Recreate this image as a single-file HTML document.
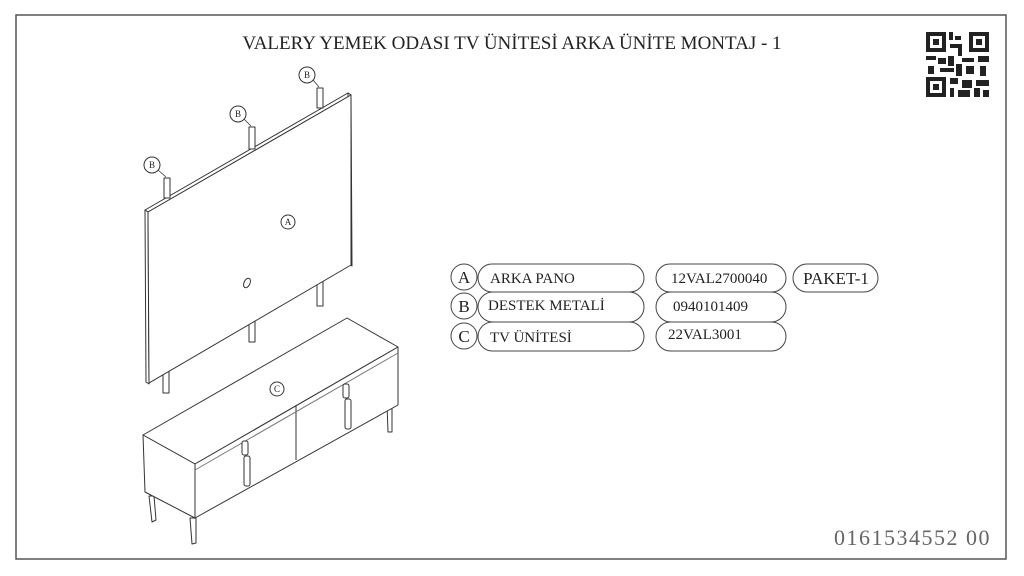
<!DOCTYPE html>
<html><head><meta charset="utf-8"><style>
html,body{margin:0;padding:0;background:#fff;}
svg{display:block;}
text{font-family:"Liberation Serif",serif;fill:#222;}
</style></head><body>
<svg width="1024" height="576" viewBox="0 0 1024 576" xmlns="http://www.w3.org/2000/svg">
<rect x="16" y="15" width="990" height="544" fill="#fff" stroke="#555" stroke-width="1.5"/>
<text x="512" y="49" font-size="19" text-anchor="middle">VALERY YEMEK ODASI TV ÜNİTESİ ARKA ÜNİTE MONTAJ - 1</text>
<!-- QR -->
<g fill="#222">
<rect x="926" y="32" width="63" height="65" fill="#fff"/>
<rect x="926" y="32" width="20" height="20"/><rect x="930" y="36" width="12" height="12" fill="#fff"/><rect x="933" y="39" width="6" height="6"/>
<rect x="969" y="32" width="20" height="20"/><rect x="973" y="36" width="12" height="12" fill="#fff"/><rect x="976" y="39" width="6" height="6"/>
<rect x="926" y="77" width="20" height="20"/><rect x="930" y="81" width="12" height="12" fill="#fff"/><rect x="933" y="84" width="6" height="6"/>
<rect x="949" y="32" width="4" height="8"/><rect x="955" y="36" width="6" height="4"/><rect x="950" y="44" width="12" height="4"/><rect x="958" y="48" width="4" height="8"/>
<rect x="926" y="56" width="10" height="4"/><rect x="938" y="58" width="8" height="6"/><rect x="948" y="56" width="6" height="10"/><rect x="962" y="58" width="12" height="4"/><rect x="978" y="56" width="11" height="6"/>
<rect x="928" y="66" width="6" height="8"/><rect x="940" y="68" width="14" height="4"/><rect x="956" y="64" width="6" height="12"/><rect x="966" y="66" width="8" height="8"/><rect x="980" y="66" width="6" height="10"/>
<rect x="950" y="78" width="8" height="6"/><rect x="962" y="80" width="10" height="8"/><rect x="976" y="80" width="13" height="6"/><rect x="950" y="88" width="4" height="9"/><rect x="958" y="90" width="12" height="7"/><rect x="974" y="88" width="6" height="9"/><rect x="983" y="90" width="6" height="7"/>
</g>
<g fill="#fff" stroke="#333" stroke-width="1" stroke-linejoin="round">
<rect x="317" y="280" width="6" height="26"/>
<rect x="249" y="317" width="6" height="25"/>
<rect x="163" y="368" width="6" height="25"/>
<polygon points="145,210 348,93 351,95 148,212"/>
<polygon points="348,93 351,95 352,266 349,264"/>
<polygon points="145,210 148,212 149,384 146,382"/>
<polygon points="148,212 351,95 351,265 149,383"/>
<rect x="164" y="178" width="6" height="20"/>
<rect x="249" y="127" width="6" height="22"/>
<rect x="317" y="88" width="6" height="20"/>
<ellipse cx="247" cy="283" rx="3" ry="5" transform="rotate(25 247 283)"/>
<polygon points="149,496 154,496 156,520 152,522"/>
<polygon points="190,518 196,518 196,543 192,544"/>
<polygon points="387,404 392,404 392,432 388,432"/>
<polygon points="143,435 347,318 398,347 195,464"/>
<polygon points="143,435 195,464 195,518 145,492"/>
<polygon points="195,464 398,347 398,405 195,518"/>
<line x1="296" y1="406" x2="296" y2="460"/>
<line x1="195" y1="470" x2="398" y2="353" stroke="#777"/>
<rect x="242" y="441" width="6" height="14" rx="2"/>
<rect x="244" y="456" width="6" height="30" rx="2"/>
<rect x="343" y="384" width="6" height="14" rx="2"/>
<rect x="345" y="399" width="6" height="30" rx="2"/>
<circle cx="152" cy="165" r="8"/><circle cx="238" cy="114" r="8"/><circle cx="307" cy="75" r="8"/>
<circle cx="288" cy="222" r="7"/><circle cx="277" cy="389" r="7"/>
</g>
<g stroke="#333" stroke-width="0.8"><line x1="158" y1="170" x2="166" y2="177"/><line x1="244" y1="119" x2="251" y2="126"/><line x1="313" y1="80" x2="319" y2="87"/></g>
<g font-size="9" text-anchor="middle"><text x="152" y="168">B</text><text x="238" y="117">B</text><text x="307" y="78">B</text><text x="288" y="225">A</text><text x="277" y="392">C</text></g>
<g fill="#fff" stroke="#444" stroke-width="1">
<circle cx="464" cy="277" r="13"/><circle cx="464" cy="306" r="13"/><circle cx="464" cy="336" r="13"/>
<rect x="478" y="264" width="166" height="28" rx="14"/>
<rect x="478" y="292" width="166" height="30" rx="15"/>
<rect x="478" y="322" width="166" height="29" rx="14.5"/>
<rect x="656" y="264" width="130" height="28" rx="14"/>
<rect x="656" y="292" width="130" height="30" rx="15"/>
<rect x="656" y="322" width="130" height="29" rx="14.5"/>
<rect x="793" y="264" width="85" height="28" rx="14"/>
</g>
<g font-size="17" text-anchor="middle"><text x="464" y="283">A</text><text x="464" y="312">B</text><text x="464" y="342">C</text></g>
<g font-size="15"><text x="490" y="283">ARKA PANO</text><text x="488" y="310">DESTEK METALİ</text><text x="490" y="342">TV ÜNİTESİ</text>
<text x="671" y="283">12VAL2700040</text><text x="673" y="311">0940101409</text><text x="668" y="339">22VAL3001</text></g>
<text x="836" y="284" font-size="17" text-anchor="middle">PAKET-1</text>
<text x="991" y="545" font-size="22" text-anchor="end" style="fill:#666;letter-spacing:1.5px">0161534552 00</text>
</svg>
</body></html>
